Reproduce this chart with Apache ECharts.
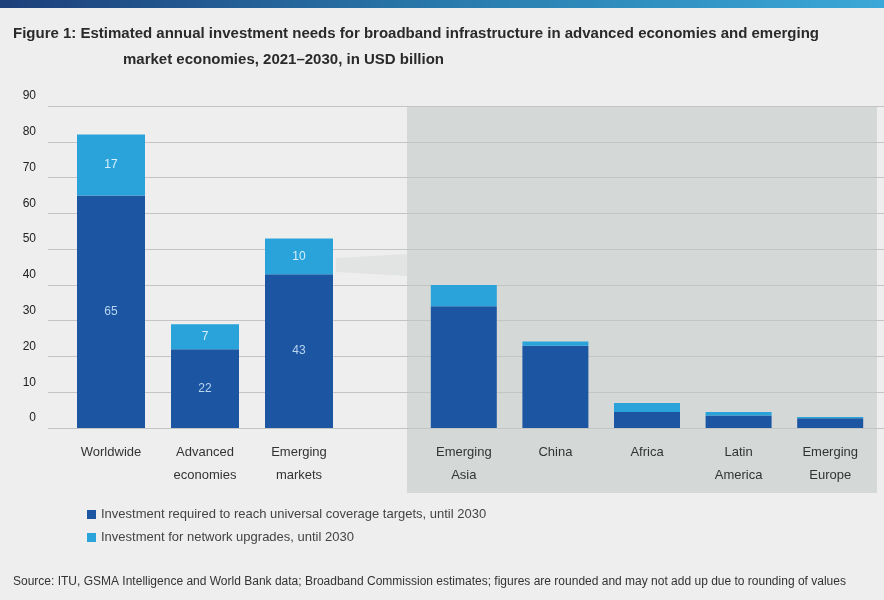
<!DOCTYPE html>
<html>
<head>
<meta charset="utf-8">
<script src="https://cdn.jsdelivr.net/npm/echarts@6/dist/echarts.min.js"></script>
<style>
html,body{margin:0;padding:0;background:#eeeeee;}
#chart{width:884px;height:600px;}
</style>
</head>
<body>
<div id="chart"></div>
<script>
// ---- data ----
var titleLine1 = "Figure 1: Estimated annual investment needs for broadband infrastructure in advanced economies and emerging";
var titleLine2 = "market economies, 2021\u20132030, in USD billion";
var sourceText = "Source: ITU, GSMA Intelligence and World Bank data; Broadband Commission estimates; figures are rounded and may not add up due to rounding of values";
var legendNames = ["Investment required to reach universal coverage targets, until 2030", "Investment for network upgrades, until 2030"];

var mainCategories = ["Worldwide", "Advanced\neconomies", "Emerging\nmarkets"];
var mainBase = [65, 22, 43];
var mainUpgrade = [17, 7, 10];

var subCategories = ["Emerging\nAsia", "China", "Africa", "Latin\nAmerica", "Emerging\nEurope"];
var subBase = [34, 23, 4.5, 3.5, 2.7];
var subUpgrade = [6, 1.2, 2.5, 1, 0.4];

var yMin = 0, yMax = 90, yStep = 10;

// ---- chart ----
var darkBlue = '#1c56a3';
var lightBlue = '#29a3d9';
var chart = echarts.init(document.getElementById('chart'));
var gridTop = 106, gridBottom = 172;
var catLabel = {color:'#333', fontSize:13, lineHeight:23, margin:13, interval:0, fontFamily:'Liberation Sans, Arial, sans-serif'};

var option = {
  backgroundColor:'#eeeeee',
  animation:false,
  textStyle:{fontFamily:'Liberation Sans, Arial, sans-serif'},
  title:[
    {text:titleLine1, left:8, top:21, textStyle:{fontSize:15, fontWeight:'bold', color:'#2a2a2a'}},
    {text:titleLine2, left:118, top:47, textStyle:{fontSize:15, fontWeight:'bold', color:'#2a2a2a'}},
    {text:sourceText, left:8, top:571, textStyle:{fontSize:12, fontWeight:'normal', color:'#333'}}
  ],
  legend:{
    orient:'vertical', left:82, top:503, itemWidth:9, itemHeight:9, itemGap:10,
    icon:'rect',
    textStyle:{fontSize:13, color:'#444'},
    data:legendNames
  },
  graphic:[
    {type:'rect', z:-10, shape:{x:0,y:0,width:884,height:8},
     style:{fill:new echarts.graphic.LinearGradient(0,0,1,0,[{offset:0,color:'#1d3f7a'},{offset:0.55,color:'#2a7fb0'},{offset:1,color:'#3aa8d8'}])}},
    {type:'rect', z:-10, shape:{x:407,y:107,width:470,height:386}, style:{fill:'#d4d9d8'}},
    {type:'polygon', z:-10, shape:{points:[[336,258],[407,254],[407,276],[336,272]]}, style:{fill:'#e2e4e4'}}
  ],
  grid:[
    {left:48, right:0, top:gridTop, bottom:gridBottom},
    {left:64, width:282, top:gridTop, bottom:gridBottom},
    {left:418, width:458, top:gridTop, bottom:gridBottom}
  ],
  xAxis:[
    {gridIndex:0, type:'category', data:[''], show:false},
    {gridIndex:1, type:'category', data:mainCategories, axisLine:{show:false}, axisTick:{show:false}, axisLabel:catLabel},
    {gridIndex:2, type:'category', data:subCategories, axisLine:{show:false}, axisTick:{show:false}, axisLabel:catLabel}
  ],
  yAxis:[
    {gridIndex:0, type:'value', min:yMin, max:yMax, interval:yStep,
     axisLine:{show:false}, axisTick:{show:false},
     splitLine:{lineStyle:{color:'#c4c4c4', width:1}},
     axisLabel:{color:'#222', fontSize:12, margin:12, verticalAlign:'bottom', padding:[0,0,4,0]}},
    {gridIndex:1, type:'value', min:yMin, max:yMax, interval:yStep, show:false, splitLine:{show:false}},
    {gridIndex:2, type:'value', min:yMin, max:yMax, interval:yStep, show:false, splitLine:{show:false}}
  ],
  series:[
    {name:legendNames[0], type:'bar', xAxisIndex:1, yAxisIndex:1, stack:'a', barWidth:68, data:mainBase,
     itemStyle:{color:darkBlue}, label:{show:true, position:'inside', color:'#b8d4f0', fontSize:12}},
    {name:legendNames[1], type:'bar', xAxisIndex:1, yAxisIndex:1, stack:'a', barWidth:68, data:mainUpgrade,
     itemStyle:{color:lightBlue}, label:{show:true, position:'inside', color:'#d8f0ff', fontSize:12}},
    {name:legendNames[0], type:'bar', xAxisIndex:2, yAxisIndex:2, stack:'b', barWidth:66, data:subBase,
     itemStyle:{color:darkBlue}},
    {name:legendNames[1], type:'bar', xAxisIndex:2, yAxisIndex:2, stack:'b', barWidth:66, data:subUpgrade,
     itemStyle:{color:lightBlue}}
  ]
};
chart.setOption(option);
</script>
</body>
</html>
